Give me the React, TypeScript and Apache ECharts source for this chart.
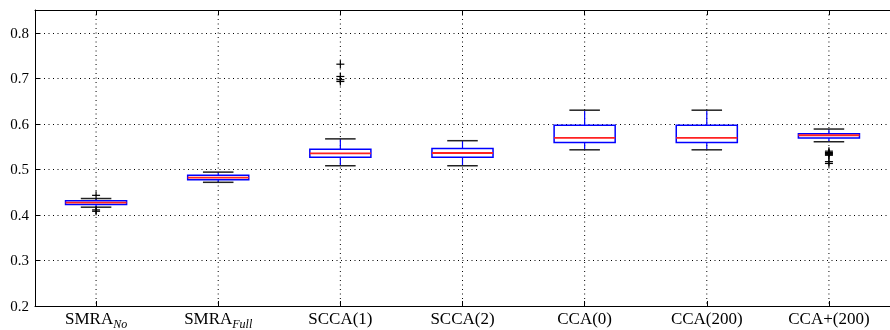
import React, { useEffect, useRef } from "react";
import * as echarts from "echarts";

const categories = ["SMRA_No", "SMRA_Full", "SCCA(1)", "SCCA(2)", "CCA(0)", "CCA(200)", "CCA+(200)"];
const lowWhisker = [0.417, 0.4716, 0.508, 0.508, 0.543, 0.543, 0.5607];
const q1 = [0.423, 0.477, 0.5265, 0.5265, 0.559, 0.559, 0.569];
const median = [0.427, 0.4817, 0.535, 0.536, 0.569, 0.569, 0.575];
const q3 = [0.431, 0.487, 0.544, 0.546, 0.597, 0.597, 0.578];
const highWhisker = [0.436, 0.494, 0.567, 0.563, 0.63, 0.63, 0.5886];
const outliers: [number, number][] = [
  [0, 0.443], [0, 0.411], [0, 0.408],
  [2, 0.731], [2, 0.704], [2, 0.697], [2, 0.693],
  [6, 0.54], [6, 0.537], [6, 0.535], [6, 0.533], [6, 0.531], [6, 0.517], [6, 0.513],
];
const yTicks = [0.2, 0.3, 0.4, 0.5, 0.6, 0.7, 0.8];

const FONT = "Liberation Serif";

export default function App() {
  const ref = useRef<HTMLDivElement>(null);
  useEffect(() => {
    if (!ref.current) return;
    const chart = echarts.init(ref.current, null, { renderer: "svg" });
    const boxData = categories.map((_, i) => [i, lowWhisker[i], q1[i], median[i], q3[i], highWhisker[i]]);
    const labelFmt = (v: string) => {
      const parts = v.split("_");
      if (parts.length === 2) return `{b|${parts[0]}}{s|${parts[1]}}`;
      return `{b|${v}}`;
    };
    const option: any = {
      animation: false,
      grid: { left: 35, top: 10, width: 864.5, height: 297 },
      xAxis: [
        {
          type: "category",
          data: categories,
          boundaryGap: true,
          position: "bottom",
          axisLine: { show: true, lineStyle: { color: "#000", width: 1 } },
          axisTick: { show: true, alignWithLabel: true, inside: true, length: 5, lineStyle: { color: "#000" } },
          axisLabel: {
            formatter: labelFmt,
            margin: 4,
            color: "#000",
            rich: {
              b: { fontFamily: FONT, fontSize: 17, color: "#000", verticalAlign: "top", lineHeight: 17 },
              s: { fontFamily: FONT, fontSize: 12, fontStyle: "italic", color: "#000", verticalAlign: "top", lineHeight: 12, padding: [8, 0, 0, 0] },
            },
          },
          splitLine: { show: false },
        },
        {
          type: "category",
          data: categories,
          boundaryGap: true,
          position: "top",
          axisLine: { show: true, lineStyle: { color: "#000", width: 1 } },
          axisTick: { show: true, alignWithLabel: true, inside: true, length: 5, lineStyle: { color: "#000" } },
          axisLabel: { show: false },
          splitLine: { show: false },
        },
      ],
      yAxis: {
        type: "value",
        min: 0.2,
        max: 0.85,
        interval: 0.1,
        axisLine: { show: true, lineStyle: { color: "#000", width: 1 } },
        axisTick: { show: true, inside: true, length: 5, lineStyle: { color: "#000" } },
        axisLabel: {
          color: "#000",
          fontFamily: FONT,
          fontSize: 15,
          margin: 6,
          formatter: (v: number) => {
            const hit = yTicks.find((t) => Math.abs(t - v) < 1e-6);
            return hit !== undefined ? hit.toFixed(1) : "";
          },
        },
        splitLine: { show: true, lineStyle: { color: "#000", type: [1, 3.5], width: 1 } },
      },
      series: [
        {
          type: "custom",
          xAxisIndex: 0,
          encode: { x: 0, y: [1, 2, 3, 4, 5] },
          data: boxData,
          z: 2,
          renderItem: (params: any, api: any) => {
            const idx = api.value(0);
            const cs = params.coordSys;
            const pLow = api.coord([idx, api.value(1)]);
            const pQ1 = api.coord([idx, api.value(2)]);
            const pMed = api.coord([idx, api.value(3)]);
            const pQ3 = api.coord([idx, api.value(4)]);
            const pHigh = api.coord([idx, api.value(5)]);
            const cx = pMed[0];
            const bw = api.size([1, 0])[0] * 0.5;
            const cw = bw * 0.5;
            return {
              type: "group",
              children: [
                {
                  type: "line",
                  shape: { x1: cx, y1: cs.y, x2: cx, y2: cs.y + cs.height },
                  style: { stroke: "#000", lineWidth: 1, lineDash: [1, 3.5] },
                },
                {
                  type: "line",
                  shape: { x1: cx, y1: pQ3[1], x2: cx, y2: pHigh[1] },
                  style: { stroke: "#0000ff", lineWidth: 1.2 },
                },
                {
                  type: "line",
                  shape: { x1: cx, y1: pQ1[1], x2: cx, y2: pLow[1] },
                  style: { stroke: "#0000ff", lineWidth: 1.2 },
                },
                {
                  type: "line",
                  shape: { x1: cx - cw / 2, y1: pHigh[1], x2: cx + cw / 2, y2: pHigh[1] },
                  style: { stroke: "#222", lineWidth: 1.5 },
                },
                {
                  type: "line",
                  shape: { x1: cx - cw / 2, y1: pLow[1], x2: cx + cw / 2, y2: pLow[1] },
                  style: { stroke: "#222", lineWidth: 1.5 },
                },
                {
                  type: "rect",
                  shape: { x: cx - bw / 2, y: pQ3[1], width: bw, height: pQ1[1] - pQ3[1] },
                  style: { fill: "#fff", stroke: "#0000ff", lineWidth: 1.5 },
                },
                {
                  type: "line",
                  shape: { x1: cx - bw / 2, y1: pMed[1], x2: cx + bw / 2, y2: pMed[1] },
                  style: { stroke: "#ff2222", lineWidth: 1.8 },
                },
              ],
            };
          },
        },
        {
          type: "custom",
          xAxisIndex: 0,
          encode: { x: 0, y: 1 },
          data: outliers,
          z: 3,
          renderItem: (params: any, api: any) => {
            const p = api.coord([api.value(0), api.value(1)]);
            const h = 4;
            return {
              type: "group",
              children: [
                { type: "line", shape: { x1: p[0] - h, y1: p[1], x2: p[0] + h, y2: p[1] }, style: { stroke: "#000", lineWidth: 1.2 } },
                { type: "line", shape: { x1: p[0], y1: p[1] - h, x2: p[0], y2: p[1] + h }, style: { stroke: "#000", lineWidth: 1.2 } },
              ],
            };
          },
        },
      ],
    };
    chart.setOption(option);
    return () => chart.dispose();
  }, []);
  return <div ref={ref} style={{ position: "fixed", left: 0, top: 0, width: 890, height: 330 }} />;
}
